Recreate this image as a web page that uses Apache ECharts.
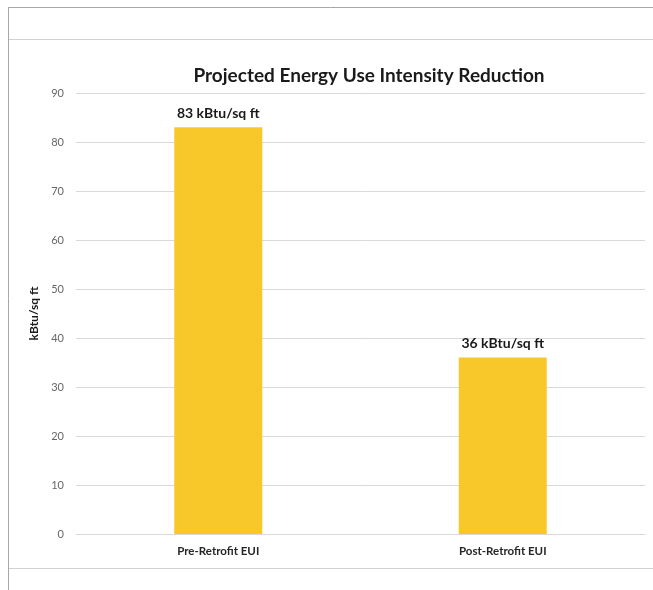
<!DOCTYPE html>
<html><head><meta charset="utf-8">
<script src="https://cdn.jsdelivr.net/npm/echarts@6/dist/echarts.min.js"></script>
<style>html,body{margin:0;padding:0;background:#fff}#c{width:653px;height:590px}</style>
</head><body><div id="c"></div>
<script>
const categories = ['Pre-Retrofit EUI', 'Post-Retrofit EUI'];
const values = [83, 36];
const labelSuffix = ' kBtu/sq ft';
const chart = echarts.init(document.getElementById('c'), null, {renderer: 'canvas'});
chart.setOption({
  animation: false,
  backgroundColor: '#fff',
  title: {
    text: 'Projected Energy Use Intensity Reduction',
    left: 364, top: 61, textAlign: 'center',
    textStyle: {fontFamily: 'Lato', fontWeight: 'bold', fontSize: 19, color: '#1a1a1a'}
  },
  grid: {left: 76, right: 8, top: 93, bottom: 56, containLabel: false},
  xAxis: {
    type: 'category', data: categories,
    axisLine: {show: true, lineStyle: {color: '#d9d9d9'}},
    axisTick: {show: false},
    axisLabel: {fontFamily: 'Lato', fontWeight: 'bold', fontSize: 11.5, color: '#262626', margin: 11}
  },
  yAxis: {
    type: 'value', min: 0, max: 90, interval: 10,
    name: 'kBtu/sq ft', nameLocation: 'middle', nameGap: 32, nameRotate: 90,
    nameTextStyle: {fontFamily: 'Lato', fontWeight: 'bold', fontSize: 12, color: '#1a1a1a'},
    axisLine: {show: false}, axisTick: {show: false},
    axisLabel: {fontFamily: 'Lato', fontSize: 11, color: '#666', margin: 12},
    splitLine: {lineStyle: {color: '#d9d9d9', width: 1}}
  },
  series: [{
    type: 'bar', data: values, barWidth: 88,
    itemStyle: {color: '#F8C82A'},
    label: {
      show: true, position: 'top', distance: 7,
      formatter: p => p.value + labelSuffix,
      fontFamily: 'Lato', fontWeight: 'bold', fontSize: 14, color: '#1a1a1a'
    }
  }],
  graphic: [
    {type: 'line', shape: {x1: 8, y1: 7.5, x2: 653, y2: 7.5}, style: {stroke: '#a6a6a6', lineWidth: 1}, silent: true},
    {type: 'line', shape: {x1: 8.5, y1: 7, x2: 8.5, y2: 590}, style: {stroke: '#a6a6a6', lineWidth: 1}, silent: true},
    {type: 'line', shape: {x1: 9, y1: 39.5, x2: 653, y2: 39.5}, style: {stroke: '#d0d0d0', lineWidth: 1}, silent: true},
    {type: 'line', shape: {x1: 9, y1: 568.5, x2: 653, y2: 568.5}, style: {stroke: '#d0d0d0', lineWidth: 1}, silent: true}
  ]
});
</script></body></html>
